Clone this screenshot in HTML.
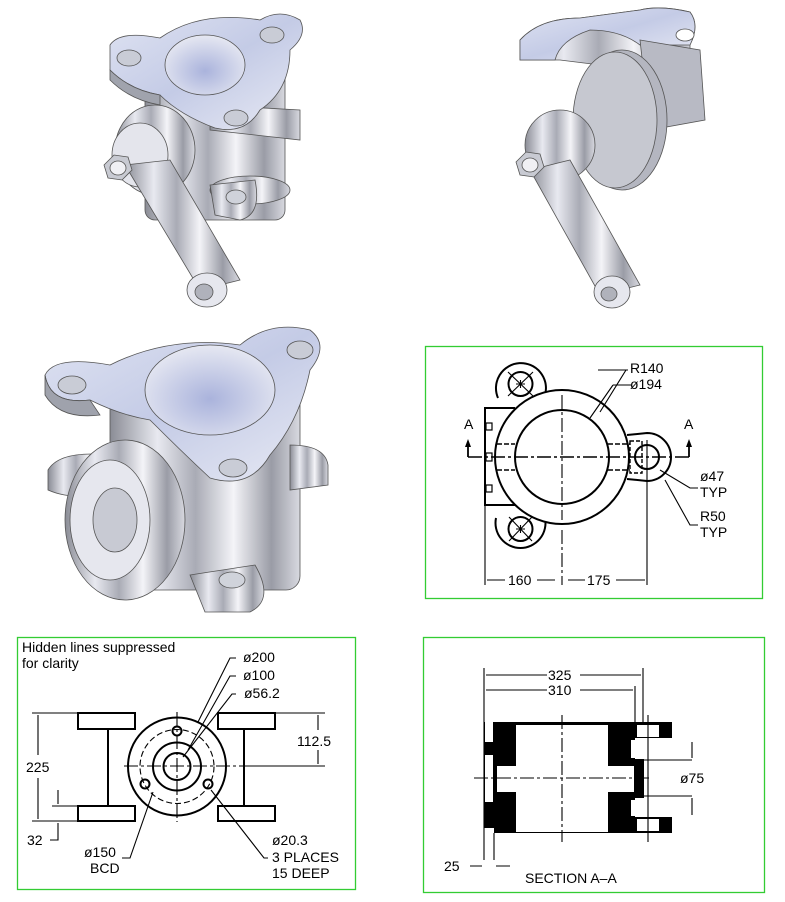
<!DOCTYPE html>
<html><head><meta charset="utf-8"><style>
html,body{margin:0;padding:0;background:#fff;}
svg{display:block}
text{font-family:"Liberation Sans",sans-serif;fill:#000}
</style></head><body>
<svg width="785" height="902" viewBox="0 0 785 902" xmlns="http://www.w3.org/2000/svg">
<defs>
<linearGradient id="met" x1="0" x2="1" y1="0" y2="0">
<stop offset="0" stop-color="#8a8c95"/><stop offset="0.25" stop-color="#e8e9f0"/><stop offset="0.45" stop-color="#a9abb5"/><stop offset="0.65" stop-color="#f4f4f8"/><stop offset="0.85" stop-color="#9a9ca6"/><stop offset="1" stop-color="#d8d9e0"/>
</linearGradient>
<linearGradient id="top" x1="0" x2="1" y1="0" y2="1">
<stop offset="0" stop-color="#dfe3f2"/><stop offset="0.5" stop-color="#c4cbe6"/><stop offset="1" stop-color="#e8eaf4"/>
</linearGradient>
<radialGradient id="bore" cx="0.5" cy="0.6" r="0.6">
<stop offset="0" stop-color="#aab3dc"/><stop offset="1" stop-color="#e6e8f2"/>
</radialGradient>
</defs>

<!-- 3D view top-left -->
<g stroke="#555" stroke-width="0.8">
<rect x="145" y="60" width="140" height="160" rx="10" fill="url(#met)"/>
<path d="M210 105 L300 110 L300 140 L210 130Z" fill="url(#met)"/>
<ellipse cx="250" cy="190" rx="40" ry="14" fill="url(#met)"/>
<path d="M110 45 Q120 30 160 38 Q200 10 260 20 Q280 8 300 20 Q308 35 290 50 Q290 90 260 110 Q245 135 215 128 Q180 115 160 95 Q130 90 110 70Z" fill="url(#top)"/>
<path d="M110 70 L110 80 Q130 100 160 105 L160 95 Q130 90 110 70Z" fill="#a0a3ad"/>
<ellipse cx="205" cy="65" rx="40" ry="30" fill="url(#bore)"/>
<ellipse cx="129" cy="58" rx="12" ry="8" fill="#c9ccd6"/>
<ellipse cx="272" cy="35" rx="12" ry="8" fill="#c9ccd6"/>
<ellipse cx="236" cy="118" rx="12" ry="8" fill="#c9ccd6"/>
<path d="M210 185 L255 180 Q262 215 240 220 L215 215Z" fill="url(#met)"/>
<ellipse cx="236" cy="197" rx="10" ry="7" fill="#cfd2da"/>
<ellipse cx="155" cy="150" rx="40" ry="45" fill="url(#met)"/>
<ellipse cx="140" cy="155" rx="28" ry="32" fill="#e4e5ec"/>
<path d="M125 165 L170 160 L240 280 L200 290Z" fill="url(#met)"/>
<ellipse cx="207" cy="290" rx="20" ry="17" fill="#e6e7ee"/>
<ellipse cx="204" cy="292" rx="9" ry="8" fill="#b0b2bb"/>
<polygon points="104,165 114,155 128,157 132,170 122,180 108,178" fill="#c8cad2"/>
<ellipse cx="118" cy="168" rx="8" ry="7" fill="#f0f0f4"/>
</g>

<!-- 3D view top-right (section) -->
<g stroke="#555" stroke-width="0.8">
<path d="M520 40 Q540 18 580 18 L640 10 Q660 5 690 12 Q700 25 690 45 L690 100 L640 110 L640 70 L560 60 L520 60Z" fill="url(#met)"/>
<path d="M520 40 Q540 18 580 18 L640 10 Q660 5 690 12 Q700 25 690 45 L640 45 Q620 30 590 30 Q560 40 555 60 L520 60Z" fill="url(#top)"/>
<ellipse cx="685" cy="35" rx="9" ry="6" fill="#fff"/>
<path d="M640 40 L700 50 L705 120 L650 130Z" fill="#b8bac4"/>
<ellipse cx="622" cy="120" rx="45" ry="70" fill="#b4b6c0"/>
<ellipse cx="615" cy="120" rx="42" ry="68" fill="#c6c8d0"/>
<ellipse cx="560" cy="145" rx="35" ry="35" fill="url(#met)"/>
<path d="M530 170 L570 160 L640 285 L600 295Z" fill="url(#met)"/>
<ellipse cx="612" cy="292" rx="18" ry="16" fill="#e6e7ee"/>
<ellipse cx="609" cy="294" rx="8" ry="7" fill="#b0b2bb"/>
<polygon points="516,162 526,152 540,154 544,167 534,177 520,175" fill="#c8cad2"/>
<ellipse cx="530" cy="165" rx="8" ry="7" fill="#f0f0f4"/>
</g>

<!-- 3D view middle-left -->
<g stroke="#555" stroke-width="0.8">
<rect x="110" y="370" width="190" height="220" rx="14" fill="url(#met)"/>
<path d="M48 470 Q60 450 110 455 L110 495 Q70 500 48 490Z" fill="url(#met)"/>
<path d="M290 445 Q325 445 328 465 L328 485 L290 490Z" fill="url(#met)"/>
<path d="M45 375 Q55 355 110 365 Q170 335 240 345 Q270 320 310 330 Q330 345 310 370 Q300 420 270 455 Q250 490 210 478 Q180 450 150 420 Q120 415 90 400 Q50 405 45 375Z" fill="url(#top)"/>
<path d="M45 375 L45 395 Q60 420 100 415 L90 400 Q50 405 45 375Z" fill="#9fa2ac"/>
<ellipse cx="210" cy="390" rx="65" ry="45" fill="url(#bore)"/>
<ellipse cx="72" cy="385" rx="14" ry="9" fill="#c9ccd6"/>
<ellipse cx="300" cy="350" rx="13" ry="9" fill="#c9ccd6"/>
<ellipse cx="233" cy="468" rx="14" ry="9" fill="#c9ccd6"/>
<ellipse cx="125" cy="520" rx="60" ry="80" fill="url(#met)"/>
<ellipse cx="110" cy="520" rx="40" ry="60" fill="#e6e7ee"/>
<ellipse cx="115" cy="520" rx="22" ry="32" fill="#c8cad3"/>
<path d="M190 575 L255 565 Q275 600 250 612 L205 612Z" fill="url(#met)"/>
<ellipse cx="232" cy="580" rx="13" ry="8" fill="#d0d3db"/>
</g>

<!-- Panel B -->
<rect x="425.5" y="346.5" width="337" height="252" fill="none" stroke="#3c3" stroke-width="1.3"/>
<g fill="none" stroke="#000" stroke-width="2">
<path d="M515 408 L485 408 L485 505 L515 505"/>
<path d="M498 398 A25 25 0 1 1 545 395" />
<path d="M496 518 A25 25 0 1 0 545 518"/>
<circle cx="562" cy="457" r="67" fill="#fff"/>
<circle cx="562" cy="457" r="47"/>
<circle cx="520.5" cy="384" r="12"/>
<circle cx="520.5" cy="529" r="12"/>
<path d="M627 435 L647 433 A24 24 0 1 1 647 481 L627 479"/>
<circle cx="647" cy="457" r="12"/>
<rect x="630" y="441" width="12" height="32" stroke-dasharray="4 2" stroke-width="1.4"/>
<path d="M497 444 L515 444 M497 470 L515 470 M608 444 L630 444 M608 470 L630 470" stroke-dasharray="5 2" stroke-width="1.4"/>
<rect x="486" y="423" width="6" height="7" stroke-width="1.2"/><rect x="486" y="453" width="6" height="8" stroke-width="1.2"/><rect x="486" y="485" width="6" height="7" stroke-width="1.2"/>
</g>
<g stroke="#000" stroke-width="1.1" fill="none">
<path d="M468 457 L690 457" stroke-dasharray="14 3 3 3" stroke-width="1.4"/>
<path d="M562 395 L562 520 M562 530 L562 585" stroke-dasharray="14 3 3 3"/>
<path d="M508 372 L533 396 M533 372 L508 396 M509 517 L532 541 M532 517 L509 541 M516 384 L525 384 M520.5 380 L520.5 388 M516 529 L525 529 M520.5 525 L520.5 533"/>
<path d="M647 440 L647 585 M485 505 L485 585"/>
<path d="M487 580 L505 580 M537 580 L555 580 M568 580 L585 580 M616 580 L645 580"/>
<path d="M468 457 L468 445 M689 457 L689 445" stroke-width="1.8"/>
<path d="M598 370 L628 370 M626 370 L600 412 M613 385 L631 385 M613 385 L590 418"/>
<path d="M660 470 L690 488 L698 488 M665 480 L690 525 L698 525"/>
</g>
<g fill="#000"><path d="M465 447 L471 447 L468 439Z M686 447 L692 447 L689 439Z"/></g>
<g font-size="14">
<text x="464" y="429">A</text><text x="684" y="429">A</text>
<text x="630" y="373">R140</text><text x="630" y="389">ø194</text>
<text x="700" y="481">ø47</text><text x="700" y="497">TYP</text>
<text x="700" y="521">R50</text><text x="700" y="537">TYP</text>
<text x="508" y="585">160</text><text x="587" y="585">175</text>
</g>

<!-- Panel C -->
<rect x="17.5" y="637.5" width="338" height="252" fill="none" stroke="#3c3" stroke-width="1.3"/>
<g stroke="#000" fill="none" stroke-width="2">
<rect x="78" y="713" width="57" height="16"/><rect x="218" y="713" width="57" height="16"/>
<rect x="78" y="806" width="57" height="15"/><rect x="218" y="806" width="57" height="15"/>
<path d="M108 729 L108 806 M244 729 L244 806"/>
<circle cx="177" cy="766.5" r="49" fill="#fff"/>
<circle cx="177" cy="766.5" r="24"/>
<circle cx="177" cy="766.5" r="13.5"/>
<circle cx="177" cy="731" r="4.5"/><circle cx="145" cy="784" r="4.5"/><circle cx="208" cy="784" r="4.5"/>
</g>
<g stroke="#000" fill="none" stroke-width="1.1">
<circle cx="177" cy="766.5" r="37" stroke-dasharray="6 3"/>
<path d="M124 766 L245 766 M177 712 L177 822" stroke-dasharray="14 3 3 3"/>
<path d="M32 713 L78 713 M275 713 L325 713 M32 821 L78 821 M52 806 L78 806 M245 766 L325 766"/>
<path d="M38 715 L38 755 M38 778 L38 819 M318 715 L318 730 M318 750 L318 764 M58 790 L58 804 M58 823 L58 840 L50 840"/>
<path d="M236 658 L230 658 L198 722 M236 676 L230 676 L188 750 M236 694 L232 694 L183 757"/>
<path d="M153 792 L130 858 L122 858 M211 790 L264 858 L268 858"/>
</g>
<g font-size="14">
<text x="22" y="652">Hidden lines suppressed</text><text x="22" y="668">for clarity</text>
<text x="243" y="662">ø200</text><text x="243" y="680">ø100</text><text x="244" y="698">ø56.2</text>
<text x="297" y="746">112.5</text><text x="26" y="772">225</text><text x="27" y="845">32</text>
<text x="84" y="857">ø150</text><text x="90" y="873">BCD</text>
<text x="272" y="845">ø20.3</text><text x="272" y="862">3 PLACES</text><text x="272" y="878">15 DEEP</text>
</g>

<!-- Panel D -->
<rect x="423.5" y="637.5" width="341" height="255" fill="none" stroke="#3c3" stroke-width="1.3"/>
<g fill="#000">
<rect x="494" y="722" width="141" height="111"/>
<rect x="484" y="722" width="10" height="106"/>
<rect x="630" y="722" width="42" height="16"/>
<rect x="630" y="817" width="42" height="16"/>
<rect x="630" y="759" width="14" height="39"/>
</g>
<g fill="#fff">
<rect x="516" y="725" width="92" height="107"/>
<rect x="497" y="766" width="19" height="26"/><rect x="608" y="766" width="26" height="26"/>
<rect x="637" y="725" width="22" height="12"/><rect x="637" y="819" width="22" height="12"/>
<rect x="631" y="740" width="12" height="18"/><rect x="631" y="800" width="12" height="16"/>
<rect x="485" y="755" width="8" height="47"/>
<rect x="485" y="722" width="8" height="20"/>
</g>
<g stroke="#000" fill="none" stroke-width="1.1">
<path d="M474 778 L652 778 M562 715 L562 842" stroke-dasharray="14 3 3 3"/>
<path d="M648 715 L648 842 M484 668 L484 860 M494 833 L494 860 M643 668 L643 722 M635 686 L635 722 M644 760 L692 760 M644 796 L692 796"/>
<path d="M486 675 L547 675 M580 675 L641 675 M486 690 L547 690 M580 690 L633 690"/>
<path d="M692 742 L692 758 M692 798 L692 815 M470 866 L482 866 M496 866 L510 866"/>
</g>
<g font-size="14">
<text x="548" y="680">325</text><text x="548" y="695">310</text>
<text x="680" y="783">ø75</text><text x="444" y="871">25</text>
<text x="525" y="883">SECTION A–A</text>
</g>
</svg>
</body></html>
